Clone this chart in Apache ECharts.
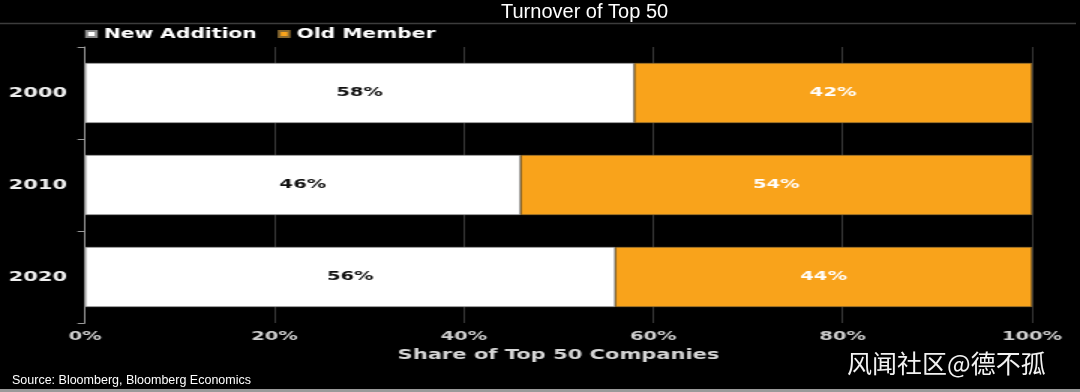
<!DOCTYPE html>
<html>
<head>
<meta charset="utf-8">
<script src="https://cdn.jsdelivr.net/npm/echarts@6/dist/echarts.min.js"></script>
<style>
  html, body { margin: 0; padding: 0; background: #000; width: 1080px; height: 392px; overflow: hidden; }
  #main { position: absolute; left: 0; top: 0; width: 720px; height: 392px; transform: scaleX(1.5); transform-origin: 0 0; }
  #over { position: absolute; left: 0; top: 0; width: 1080px; height: 392px; }
</style>
</head>
<body>
<div id="main"></div>
<div id="over"></div>
<script>
const categories = ['2000', '2010', '2020'];
const newAddition = [58, 46, 56];
const oldMember = [42, 54, 44];
const xTicks = [0, 20, 40, 60, 80, 100];
const titleText = 'Turnover of Top 50';
const axisName = 'Share of Top 50 Companies';
const sourceText = 'Source: Bloomberg, Bloomberg Economics';
const watermark = '风闻社区@德不孤';

const boldFont = 'DejaVu Sans';

const main = echarts.init(document.getElementById('main'));
main.setOption({
  backgroundColor: '#000',
  animation: false,
  legend: {
    left: 56.7,
    top: 27,
    padding: 0,
    icon: 'rect',
    itemWidth: 6.5,
    itemHeight: 6,
    itemGap: 14,
    textStyle: { color: '#fff', fontFamily: boldFont, fontWeight: 'bold', fontSize: 13.5 },
    data: ['New Addition', 'Old Member']
  },
  grid: { left: 56.7, right: 32, top: 47, bottom: 69, containLabel: false },
  xAxis: {
    type: 'value',
    min: xTicks[0],
    max: xTicks[xTicks.length - 1],
    interval: 20,
    axisLine: { show: false },
    axisTick: { show: false },
    splitLine: { show: true, lineStyle: { color: '#363636', width: 1 } },
    axisLabel: {
      margin: 7,
      color: '#cfcfcf',
      fontFamily: boldFont,
      fontWeight: 'bold',
      fontSize: 13,
      formatter: '{value}%'
    },
    name: axisName,
    nameLocation: 'middle',
    nameGap: 22,
    nameTextStyle: { color: '#d6d6d6', fontFamily: boldFont, fontWeight: 'bold', fontSize: 14 }
  },
  yAxis: {
    type: 'category',
    inverse: true,
    data: categories,
    axisLine: { show: true, lineStyle: { color: '#9a9a9a', width: 1 } },
    axisTick: { show: true, length: 5, lineStyle: { color: '#9a9a9a' } },
    axisLabel: {
      margin: 12,
      color: '#f0f0f0',
      fontFamily: boldFont,
      fontWeight: 'bold',
      fontSize: 14
    },
    splitLine: { show: false }
  },
  series: [
    {
      name: 'New Addition',
      type: 'bar',
      stack: 'total',
      barWidth: 60,
      data: newAddition,
      itemStyle: { color: '#ffffff', borderColor: '#8a8a8a', borderWidth: 0.7 },
      label: {
        show: true,
        position: 'inside',
        formatter: '{c}%',
        color: '#111',
        fontFamily: boldFont,
        fontWeight: 'bold',
        fontSize: 13
      }
    },
    {
      name: 'Old Member',
      type: 'bar',
      stack: 'total',
      barWidth: 60,
      data: oldMember,
      itemStyle: { color: '#F9A31B', borderColor: '#8a6a30', borderWidth: 0.7 },
      label: {
        show: true,
        position: 'inside',
        formatter: '{c}%',
        color: '#ffffff',
        fontFamily: boldFont,
        fontWeight: 'bold',
        fontSize: 13
      }
    }
  ]
});

const over = echarts.init(document.getElementById('over'));
over.setOption({
  backgroundColor: 'transparent',
  animation: false,
  graphic: [
    {
      type: 'text',
      left: 501,
      top: 2,
      style: { text: titleText, fill: '#fff', font: '20px "Liberation Sans", Arial, sans-serif' }
    },
    {
      type: 'line',
      shape: { x1: 0, y1: 23.5, x2: 1076, y2: 23.5 },
      style: { stroke: '#3c3c3c', lineWidth: 1.5 }
    },
    {
      type: 'text',
      left: 12,
      top: 374,
      style: { text: sourceText, fill: '#fff', font: '12.5px "Liberation Sans", Arial, sans-serif' }
    },
    {
      type: 'text',
      left: 847,
      top: 351,
      style: { text: watermark, fill: '#f2f2f2', font: '25px "Noto Sans CJK SC", sans-serif' }
    },
    {
      type: 'rect',
      shape: { x: 0, y: 389, width: 1080, height: 3 },
      style: { fill: '#9a9a9a' }
    }
  ]
});
</script>
</body>
</html>
